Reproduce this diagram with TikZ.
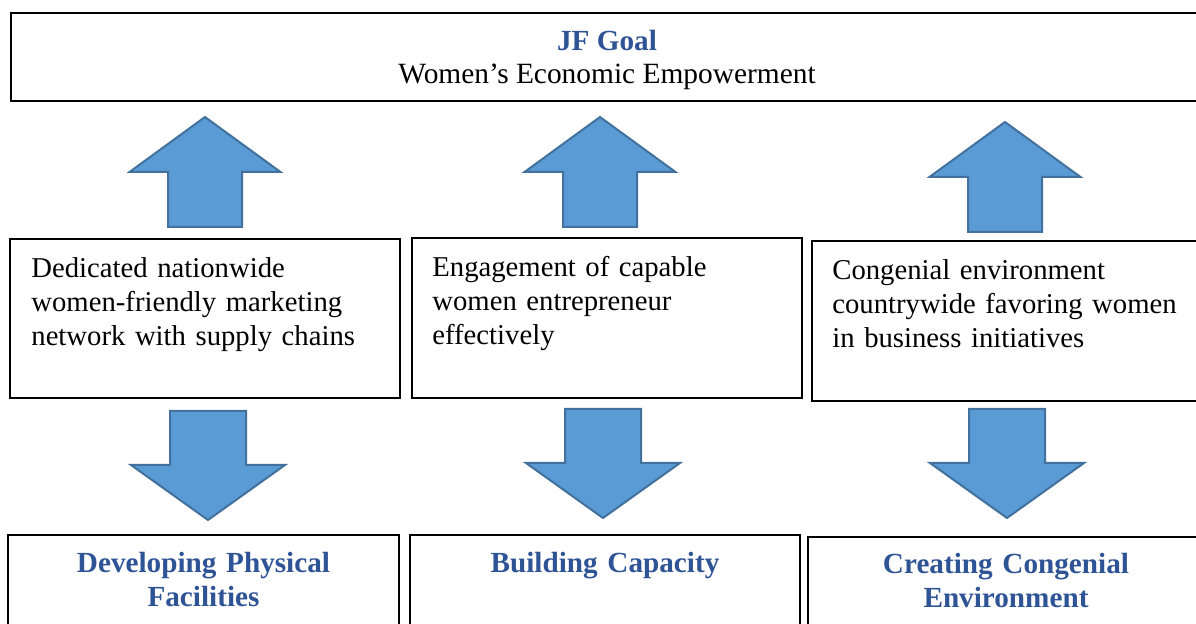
\documentclass[tikz,border=0pt]{standalone}
\usepackage{fontspec}
\setmainfont{Liberation Serif}
\definecolor{arrowfill}{RGB}{91,155,213}
\definecolor{arrowline}{RGB}{65,113,156}
\definecolor{titleblue}{RGB}{47,84,150}
\begin{document}
\begin{tikzpicture}[x=0.5pt,y=-0.5pt,
  box/.style={draw=black, line width=1.1pt, rectangle, inner sep=0pt},
  bodytext/.style={inner sep=0pt, anchor=base west, text width=185pt, align=left,
    font=\fontsize{14.35}{17}\selectfont},
  headtext/.style={inner sep=0pt, anchor=base, text width=190pt, align=center,
    font=\fontsize{14.6}{16.8}\selectfont\bfseries, text=titleblue},
  blockarrow/.style={fill=arrowfill, draw=arrowline, line width=1pt, line join=miter},
  uparrow/.pic={\path[blockarrow] (0,0) -- (75.5,55) -- (37,55) -- (37,110)
      -- (-37,110) -- (-37,55) -- (-75.5,55) -- cycle;},
  downarrow/.pic={\path[blockarrow] (0,0) -- (77,-55) -- (38,-55) -- (38,-109)
      -- (-38,-109) -- (-38,-55) -- (-77,-55) -- cycle;}]
\useasboundingbox (0,0) rectangle (1196,624);
\begin{scope}
\clip (0,0) rectangle (1196,624);

% goal box
\node[box, minimum width=596pt, minimum height=44pt] (goal) at (607,57) {};
\node[inner sep=0pt, anchor=base, font=\fontsize{14.6}{17}\selectfont\bfseries, text=titleblue]
  (goaltitle) at (607,51) {JF Goal};
\node[inner sep=0pt, anchor=base, font=\fontsize{14.7}{17}\selectfont]
  (goaltext) at (607,84) {Women’s Economic Empowerment};

% outcome boxes
\node[box, minimum width=195pt, minimum height=79.5pt] (out1) at (205,318.5) {};
\node[box, minimum width=195pt, minimum height=80pt] (out2) at (607,318) {};
\node[box, minimum width=195pt, minimum height=80pt] (out3) at (1007,321) {};
\node[bodytext] (out1text) at (31,278) {Dedicated nationwide\\women-friendly marketing\\network with supply chains};
\node[bodytext] (out2text) at (432,277) {Engagement of capable\\women entrepreneur\\effectively};
\node[bodytext] (out3text) at (832,280) {Congenial environment\\countrywide favoring women\\in business initiatives};

% strategy boxes
\node[box, minimum width=195.5pt, minimum height=85pt] (str1) at (203.5,620) {};
\node[box, minimum width=195pt, minimum height=85pt] (str2) at (605,620) {};
\node[box, minimum width=195.5pt, minimum height=85pt] (str3) at (1003.5,622) {};
\node[headtext] (str1text) at (203.5,573) {Developing Physical\\Facilities};
\node[headtext] (str2text) at (605,573) {Building Capacity};
\node[headtext] (str3text) at (1006,574) {Creating Congenial\\Environment};

% block arrows
\pic at (205,117) {uparrow};
\pic at (600,117) {uparrow};
\pic at (1005,122) {uparrow};
\pic at (208,520) {downarrow};
\pic at (603,518) {downarrow};
\pic at (1007,518) {downarrow};
\end{scope}
\end{tikzpicture}
\end{document}
